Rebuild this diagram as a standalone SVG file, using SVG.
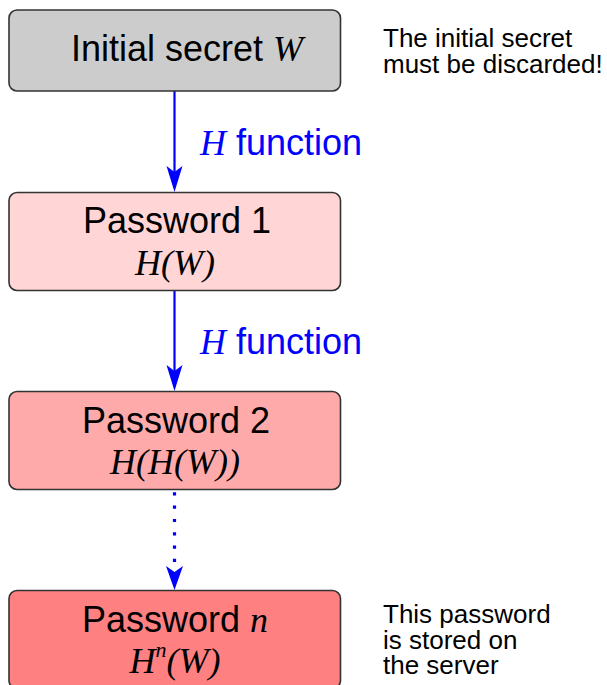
<svg xmlns="http://www.w3.org/2000/svg" width="607" height="685" viewBox="0 0 607 685">
<style>
.box{stroke:#333333;stroke-width:1.6}
.t{font-family:"Liberation Sans",Arial,sans-serif;font-size:36px;fill:#000;text-anchor:middle}
.m{font-family:"Liberation Serif","Times New Roman",serif;font-style:italic;font-size:36px;fill:#000;text-anchor:middle}
.note{font-family:"Liberation Sans",Arial,sans-serif;font-size:26px;fill:#000}
.lbl{font-family:"Liberation Sans",Arial,sans-serif;font-size:36px;fill:#0000ff}
.lblm{font-family:"Liberation Serif","Times New Roman",serif;font-style:italic}
.conn{stroke:#0000ff;stroke-width:2.2;fill:none}
.head{fill:#0000ff}
</style>
<rect width="607" height="685" fill="#ffffff"/>
<g id="connectors">
  <line class="conn" x1="174.5" y1="91" x2="174.5" y2="175"/>
  <polygon class="head" points="174.5,192 166.5,166 174.5,172 182.5,166"/>
  <line class="conn" x1="174.5" y1="291" x2="174.5" y2="374"/>
  <polygon class="head" points="174.5,391 166.5,365 174.5,371 182.5,365"/>
  <line x1="174.5" y1="492.3" x2="174.5" y2="575" stroke="#0000ff" stroke-width="3.2" stroke-dasharray="3.2,10.1"/>
  <polygon class="head" points="174.5,590 166,566 174.5,572 183,566"/>
  <text class="lbl" x="200" y="155"><tspan class="lblm">H</tspan> function</text>
  <text class="lbl" x="200" y="354"><tspan class="lblm">H</tspan> function</text>
</g>
<g id="node-initial">
  <rect class="box" x="9" y="10" width="331.5" height="81" rx="8" fill="#cccccc"/>
  <text class="t" x="187" y="61">Initial secret <tspan class="lblm">W</tspan></text>
</g>
<g id="note-initial">
  <text class="note" x="383" y="47">The initial secret</text>
  <text class="note" x="383" y="73">must be discarded!</text>
</g>
<g id="node-p1">
  <rect class="box" x="9" y="192.5" width="331.5" height="98" rx="8" fill="#ffd5d5"/>
  <text class="t" x="177" y="233">Password 1</text>
  <text class="m" x="175" y="275">H(W)</text>
</g>
<g id="node-p2">
  <rect class="box" x="9" y="391.5" width="331.5" height="98" rx="8" fill="#ffaaaa"/>
  <text class="t" x="176" y="433">Password 2</text>
  <text class="m" x="175" y="474">H(H(W))</text>
</g>
<g id="node-pn">
  <rect class="box" x="9" y="590.5" width="331.5" height="98" rx="8" fill="#ff8080"/>
  <text class="t" x="175" y="632">Password <tspan class="lblm">n</tspan></text>
  <text class="m" x="175" y="673">H<tspan font-size="22" dy="-16">n</tspan><tspan dy="16">(W)</tspan></text>
</g>
<g id="note-pn">
  <text class="note" x="383" y="623">This password</text>
  <text class="note" x="383" y="648.5">is stored on</text>
  <text class="note" x="383" y="674">the server</text>
</g>
</svg>
